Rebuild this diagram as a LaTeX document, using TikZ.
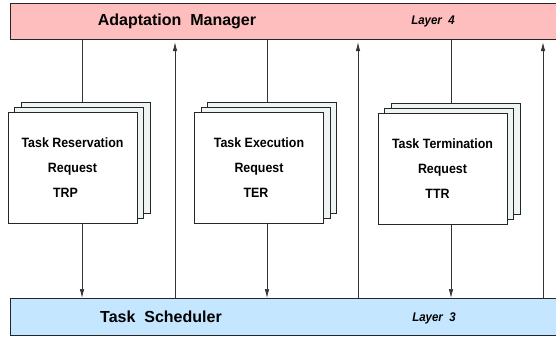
\documentclass[tikz,border=0pt]{standalone}
\usepackage{fontspec}
\setmainfont{Liberation Sans}
\newfontfamily\narrowsans[FakeStretch=0.92]{Liberation Sans}
\usetikzlibrary{arrows.meta,shadows,backgrounds}

\definecolor{managerpink}{RGB}{255,190,190}
\definecolor{schedblue}{RGB}{196,230,255}
\definecolor{sheetgray}{RGB}{238,243,243}

\tikzset{
  layerbar/.style={draw=black!85, line width=1.2pt, minimum width=560pt,
    minimum height=36pt, anchor=north west, inner sep=0pt},
  bartitle/.style={font=\bfseries\fontsize{16}{18}\selectfont},
  layertag/.style={font=\narrowsans\bfseries\itshape\fontsize{12.5}{14}\selectfont},
  sheet/.style={fill=sheetgray, draw=black!85, line width=0.9pt},
  request/.style={draw=black!85, line width=0.9pt, fill=white,
    minimum width=129pt, minimum height=111pt, inner sep=0pt, align=center,
    font=\narrowsans\bfseries\fontsize{13.5}{25}\selectfont,
    copy shadow={shadow xshift=13pt, shadow yshift=10pt, sheet},
    copy shadow={shadow xshift=6.5pt, shadow yshift=5pt, sheet}},
  plain/.style={draw=black!80, line width=0.7pt},
  msg/.style={plain, -{Latex[length=9pt,width=4.5pt]}}
}

\begin{document}
\begin{tikzpicture}[x=1pt,y=-1pt]
  \clip (0,0) rectangle (556,339);
  % layers
  \node[layerbar, fill=managerpink] (am) at (10,3) {};
  \node[layerbar, fill=schedblue, minimum height=37pt] (ts) at (10,298) {};
  \node[bartitle] (amtitle) at (177,21) {Adaptation\ \ Manager};
  \node[layertag] (amlayer) at (433,21) {Layer\ \ 4};
  \node[bartitle] (tstitle) at (161,317) {Task\ \ Scheduler};
  \node[layertag] (tslayer) at (434,318) {Layer\ \ 3};
  % requests
  \node[request] (trp) at (72.5,167.5) {Task Reservation\\Request\hspace*{12pt}\\TRP\hspace*{14pt}};
  \node[request] (ter) at (259,167.5) {Task Execution\\Request\hspace*{6pt}\\TER\hspace*{6pt}};
  \node[request] (ttr) at (442.5,169) {Task Termination\\Request\\TTR\hspace*{10pt}};
  % message lines
  \coordinate (d1) at (82,0);
  \coordinate (d2) at (267,0);
  \coordinate (d3) at (451,0);
  \coordinate (u1) at (175,0);
  \coordinate (u2) at (358,0);
  \coordinate (u3) at (543,0);
  \begin{scope}[on background layer]
    \draw[plain] (d1 |- am.south) -- (d1 |- trp.center);
    \draw[plain] (d2 |- am.south) -- (d2 |- ter.center);
    \draw[plain] (d3 |- am.south) -- (d3 |- ttr.center);
  \end{scope}
  \draw[msg] (d1 |- trp.south) -- (d1 |- ts.north);
  \draw[msg] (d2 |- ter.south) -- (d2 |- ts.north);
  \draw[msg] (d3 |- ttr.south) -- (d3 |- ts.north);
  \draw[msg, shorten >=2pt] (u1 |- ts.north) -- (u1 |- am.south);
  \draw[msg, shorten >=2pt] (u2 |- ts.north) -- (u2 |- am.south);
  \draw[msg, shorten >=2pt] (u3 |- ts.north) -- (u3 |- am.south);
\end{tikzpicture}
\end{document}
